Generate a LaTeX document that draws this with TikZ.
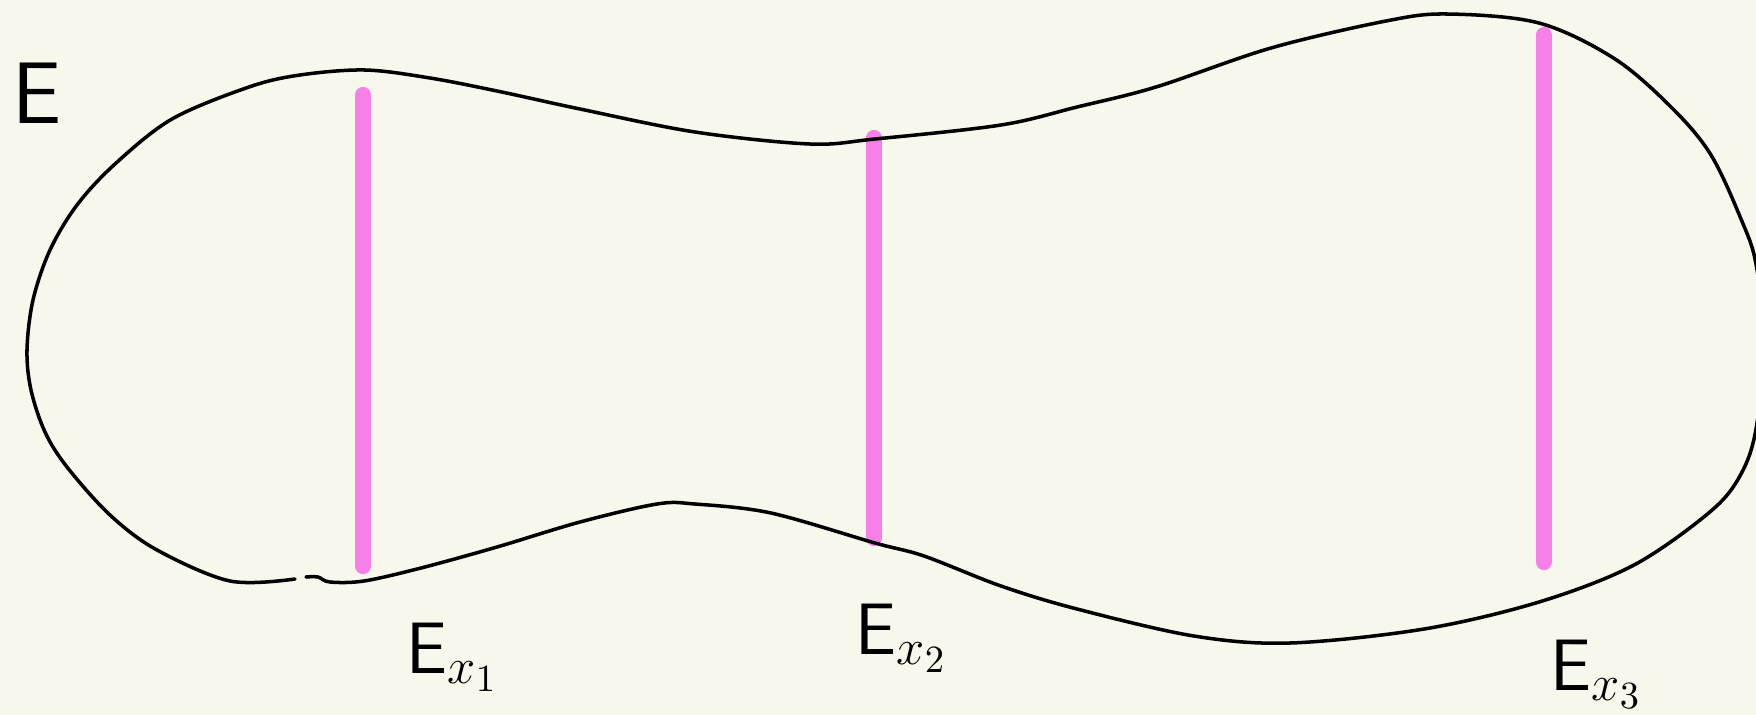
\documentclass[tikz,border=0pt]{standalone}
\usepackage{xcolor}
\usepackage{tikz}
\definecolor{paper}{RGB}{248,247,235}
\definecolor{fibrepink}{RGB}{246,128,232}

\begin{document}
\begin{tikzpicture}[
  x=0.1mm, y=-0.1mm,
  outline/.style={draw=black, line width=1pt, line cap=round, line join=round},
  fibre/.style={draw=fibrepink, line width=4.6pt, line cap=round},
  lbl/.style={inner sep=0pt, font=\fontsize{22}{25}\selectfont},
]
\fill[paper] (0,0) rectangle (1756,715);
\useasboundingbox (0,0) rectangle (1756,715);
\clip (0,0) rectangle (1756,715);

% fibres
\draw[fibre] (363,95) -- (363,566);
\draw[fibre] (874,138) -- (874,538);
\draw[fibre] (1544,35) -- (1544,562);

% total space, with the small break at the bottom left
\draw[outline] plot[smooth, tension=0.55] coordinates {
  (306,577) (318,577) (330,582) (364,581) (421,568) (497,547) (580,522)
  (657,504) (695,504) (771,513) (875,543) (924,556) (1001,586) (1077,609)
  (1194,636) (1290,643) (1424,629) (1539,602) (1634,565) (1711,511)
  (1741,474) (1756,429) (1764,345) (1756,264) (1741,219) (1711,155)
  (1673,109) (1615,59) (1539,23) (1447,14) (1386,21) (1271,48) (1156,87)
  (1077,107) (1001,125) (875,139) (810,144) (695,132) (580,109) (497,91)
  (430,78) (365,70) (300,75) (249,87) (172,119) (115,164) (77,205) (50,250)
  (33,300) (27,350) (31,390) (45,432) (67,467) (110,515) (157,550)
  (230,581) (295,579)};

% labels
\node[lbl, font=\fontsize{28}{30}\selectfont, anchor=base west] (tot) at (12,123) {$\mathsf{E}$};
\node[lbl, anchor=base west] (ex1) at (406,673) {$\mathsf{E}_{x_1}$};
\node[lbl, anchor=base west] (ex2) at (855,654) {$\mathsf{E}_{x_2}$};
\node[lbl, anchor=base west] (ex3) at (1550,690) {$\mathsf{E}_{x_3}$};
\end{tikzpicture}
\end{document}
